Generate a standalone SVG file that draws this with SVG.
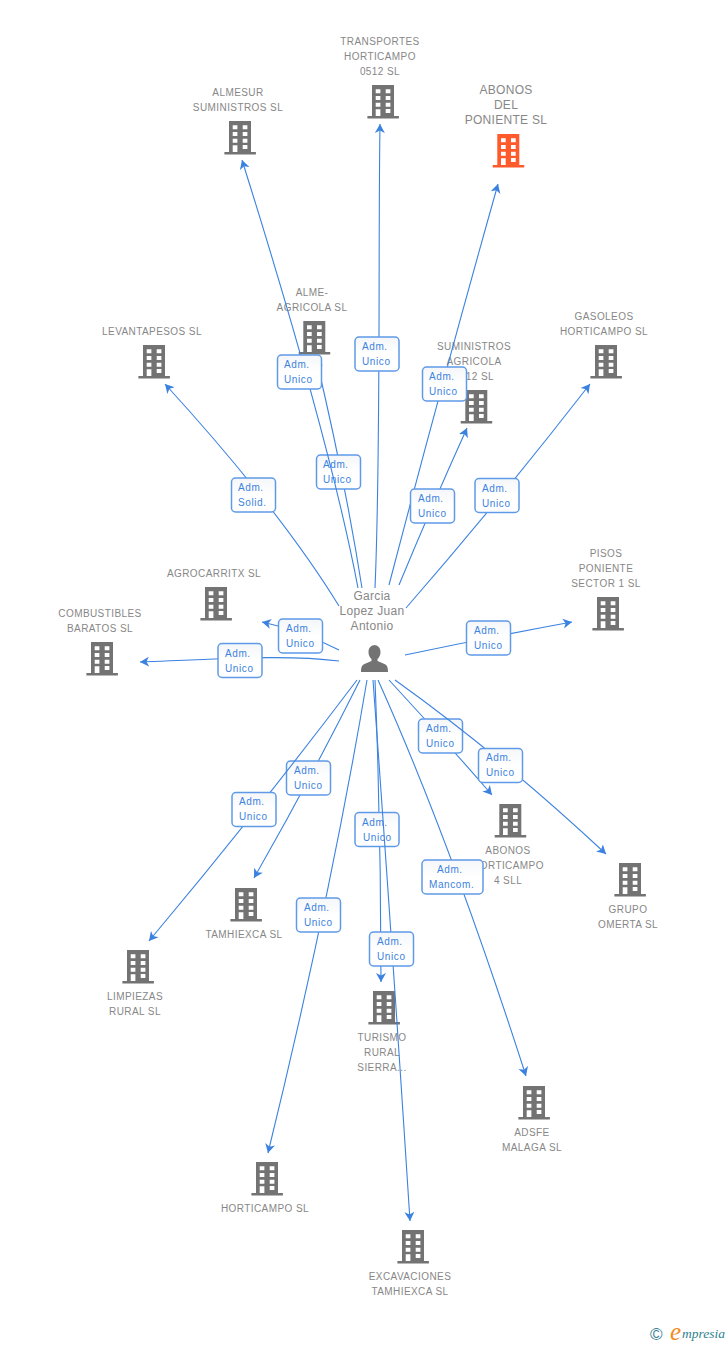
<svg xmlns="http://www.w3.org/2000/svg" width="728" height="1345" viewBox="0 0 728 1345">
<style>
text{font-family:"Liberation Sans",Arial,sans-serif}
.n{font-size:10px;fill:#878787;text-anchor:middle;letter-spacing:.42px}
.big{font-size:12px;letter-spacing:.3px}
.c path{fill:none;stroke:#3b82e0;stroke-width:1.1}
.a{marker-end:url(#ah)}
.b{fill:url(#bg);stroke:#5f9ae8;stroke-width:1.5}
.l{font-size:10px;fill:#3b82e0;letter-spacing:.6px}
</style>
<defs>
<marker id="ah" markerUnits="userSpaceOnUse" markerWidth="12" markerHeight="12" refX="9" refY="5.500" orient="auto"><path d="M0,0.5 L9,5.500 L0,10.500 L2.500,5.500 Z" fill="#3b82e0"/></marker>
<linearGradient id="bg" x1="0" y1="0" x2="0" y2="1"><stop offset="0" stop-color="#f4f6f9"/><stop offset=".5" stop-color="#fff"/><stop offset="1" stop-color="#fff"/></linearGradient>
<g id="bd"><path fill-rule="evenodd" d="M0,0H22V31H26.900V33.500H-4.600V31H0Z M3.700,4.300V8.300H8.400V4.300Z M13.700,4.300V8.300H18.400V4.300Z M3.700,11V15H8.400V11Z M13.700,11V15H18.400V11Z M3.700,17.700V21.700H8.400V17.700Z M13.700,17.700V21.700H18.400V17.700Z M3.700,24.300V31H8.400V24.300Z M13.700,24V28H18.400V24Z"/></g>
</defs>
<g id="n-transportes"><use href="#bd" x="372" y="85" fill="#737373"/><text class="n"><tspan x="380" y="45">TRANSPORTES</tspan><tspan x="380" y="60">HORTICAMPO</tspan><tspan x="380" y="75">0512 SL</tspan></text></g>
<g id="n-almesur"><use href="#bd" x="229" y="121" fill="#737373"/><text class="n"><tspan x="238" y="96">ALMESUR</tspan><tspan x="238" y="111">SUMINISTROS SL</tspan></text></g>
<g id="n-abonos-poniente"><use href="#bd" x="497.300" y="134" fill="#ff5a2b"/><text class="n big"><tspan x="506" y="94">ABONOS</tspan><tspan x="506" y="109">DEL</tspan><tspan x="506" y="124">PONIENTE SL</tspan></text></g>
<g id="n-alme-agricola"><use href="#bd" x="303.300" y="321" fill="#737373"/><text class="n"><tspan x="312" y="296">ALME-</tspan><tspan x="312" y="311">AGRICOLA SL</tspan></text></g>
<g id="n-levantapesos"><use href="#bd" x="143" y="345" fill="#737373"/><text class="n"><tspan x="152" y="335">LEVANTAPESOS SL</tspan></text></g>
<g id="n-suministros"><use href="#bd" x="465.300" y="390" fill="#737373"/><text class="n"><tspan x="474" y="350">SUMINISTROS</tspan><tspan x="474" y="365">AGRICOLA</tspan><tspan x="474" y="380">0512 SL</tspan></text></g>
<g id="n-gasoleos"><use href="#bd" x="595" y="345" fill="#737373"/><text class="n"><tspan x="604" y="320">GASOLEOS</tspan><tspan x="604" y="335">HORTICAMPO SL</tspan></text></g>
<g id="n-agrocarritx"><use href="#bd" x="205" y="587" fill="#737373"/><text class="n"><tspan x="214" y="577">AGROCARRITX SL</tspan></text></g>
<g id="n-combustibles"><use href="#bd" x="91" y="642" fill="#737373"/><text class="n"><tspan x="100" y="617">COMBUSTIBLES</tspan><tspan x="100" y="632">BARATOS SL</tspan></text></g>
<g id="n-pisos"><use href="#bd" x="597" y="597" fill="#737373"/><text class="n"><tspan x="606" y="557">PISOS</tspan><tspan x="606" y="572">PONIENTE</tspan><tspan x="606" y="587">SECTOR 1 SL</tspan></text></g>
<g id="n-abonos-horticampo"><use href="#bd" x="499.300" y="804" fill="#737373"/><text class="n"><tspan x="508" y="854">ABONOS</tspan><tspan x="508" y="869">HORTICAMPO</tspan><tspan x="508" y="884">4 SLL</tspan></text></g>
<g id="n-grupo"><use href="#bd" x="619" y="863" fill="#737373"/><text class="n"><tspan x="628" y="913">GRUPO</tspan><tspan x="628" y="928">OMERTA SL</tspan></text></g>
<g id="n-tamhiexca"><use href="#bd" x="235" y="888" fill="#737373"/><text class="n"><tspan x="244" y="938">TAMHIEXCA SL</tspan></text></g>
<g id="n-limpiezas"><use href="#bd" x="127" y="950" fill="#737373"/><text class="n"><tspan x="135" y="1000">LIMPIEZAS</tspan><tspan x="135" y="1015">RURAL SL</tspan></text></g>
<g id="n-turismo"><use href="#bd" x="373" y="991" fill="#737373"/><text class="n"><tspan x="382" y="1041">TURISMO</tspan><tspan x="382" y="1056">RURAL</tspan><tspan x="382" y="1071">SIERRA...</tspan></text></g>
<g id="n-adsfe"><use href="#bd" x="523" y="1086" fill="#737373"/><text class="n"><tspan x="532" y="1136">ADSFE</tspan><tspan x="532" y="1151">MALAGA SL</tspan></text></g>
<g id="n-horticampo"><use href="#bd" x="256" y="1162" fill="#737373"/><text class="n"><tspan x="265" y="1212">HORTICAMPO SL</tspan></text></g>
<g id="n-excavaciones"><use href="#bd" x="402" y="1230" fill="#737373"/><text class="n"><tspan x="410" y="1280">EXCAVACIONES</tspan><tspan x="410" y="1295">TAMHIEXCA SL</tspan></text></g>
<g id="n-garcia"><path d="M374,645c4,0 6.500,3 6.500,7c0,3-1.200,5.500-3,7v2l7,3c2.500,1 3.500,3 3.500,8h-27c0-5 1-7 3.500-8l7-3v-2c-1.800-1.500-3-4-3-7c0-4 2.500-7 6.500-7Z" fill="#737373"/><text class="n big"><tspan x="372" y="600">Garcia</tspan><tspan x="372" y="615">Lopez Juan</tspan><tspan x="372" y="630">Antonio</tspan></text></g>
<g id="connectors" class="c">
<g><path class="a" d="M362,588Q345,480 316,358"/><rect class="b" x="316.500" y="455" width="44" height="34" rx="4"/><text class="l"><tspan x="323" y="468">Adm.</tspan><tspan x="323" y="483">Unico</tspan></text></g>
<g><path class="a" d="M358,588Q330,440 242,160"/><rect class="b" x="277.500" y="355" width="44" height="34" rx="4"/><text class="l"><tspan x="284" y="368">Adm.</tspan><tspan x="284" y="383">Unico</tspan></text></g>
<g><path class="a" d="M375,588C381,450 378,250 380,124"/><rect class="b" x="355" y="337" width="44" height="34" rx="4"/><text class="l"><tspan x="362" y="350">Adm.</tspan><tspan x="362" y="365">Unico</tspan></text></g>
<g><path class="a" d="M389,585Q440,390 498,184"/><rect class="b" x="422.500" y="367" width="44" height="34" rx="4"/><text class="l"><tspan x="429" y="380">Adm.</tspan><tspan x="429" y="395">Unico</tspan></text></g>
<g><path class="a" d="M399,585Q430,510 467,428"/><rect class="b" x="410.500" y="489" width="44" height="34" rx="4"/><text class="l"><tspan x="418" y="502">Adm.</tspan><tspan x="418" y="517">Unico</tspan></text></g>
<g><path class="a" d="M406,608Q500,500 590,384"/><rect class="b" x="475" y="478.500" width="44" height="34" rx="4"/><text class="l"><tspan x="482" y="492">Adm.</tspan><tspan x="482" y="507">Unico</tspan></text></g>
<g><path class="a" d="M339,606Q280,510 165,384"/><rect class="b" x="231.500" y="478" width="44" height="34" rx="4"/><text class="l"><tspan x="238" y="491">Adm.</tspan><tspan x="238" y="506">Solid.</tspan></text></g>
<g><path class="a" d="M339,650Q300,630 262,622"/><rect class="b" x="278.500" y="619" width="44" height="34" rx="4"/><text class="l"><tspan x="286" y="632">Adm.</tspan><tspan x="286" y="647">Unico</tspan></text></g>
<g><path class="a" d="M339,661C290,655 240,658 140,662"/><rect class="b" x="218" y="643.500" width="44" height="34" rx="4"/><text class="l"><tspan x="225" y="657">Adm.</tspan><tspan x="225" y="672">Unico</tspan></text></g>
<g><path class="a" d="M405,655Q490,637 572,622"/><rect class="b" x="466.500" y="621" width="44" height="34" rx="4"/><text class="l"><tspan x="474" y="634">Adm.</tspan><tspan x="474" y="649">Unico</tspan></text></g>
<g><path class="a" d="M389,680Q440,735 492,795"/><rect class="b" x="418.500" y="719" width="44" height="34" rx="4"/><text class="l"><tspan x="426" y="732">Adm.</tspan><tspan x="426" y="747">Unico</tspan></text></g>
<g><path class="a" d="M395,680Q500,755 606,854"/><rect class="b" x="478.500" y="748.500" width="44" height="34" rx="4"/><text class="l"><tspan x="486" y="761">Adm.</tspan><tspan x="486" y="776">Unico</tspan></text></g>
<g><path class="a" d="M378,680Q450,840 526,1076"/><rect class="b" x="422" y="860" width="61" height="34" rx="4"/><text class="l"><tspan x="437" y="873">Adm.</tspan><tspan x="429" y="888">Mancom.</tspan></text></g>
<g><path class="a" d="M375,680Q381,830 381,982"/><rect class="b" x="355" y="812.500" width="44" height="34" rx="4"/><text class="l"><tspan x="362" y="826">Adm.</tspan><tspan x="363" y="841">Unico</tspan></text></g>
<g><path class="a" d="M373,680Q392,940 410,1221"/><rect class="b" x="369.500" y="932" width="44" height="34" rx="4"/><text class="l"><tspan x="377" y="945">Adm.</tspan><tspan x="377" y="960">Unico</tspan></text></g>
<g><path class="a" d="M367,680Q330,900 268,1153"/><rect class="b" x="296.500" y="898" width="44" height="34" rx="4"/><text class="l"><tspan x="304" y="911">Adm.</tspan><tspan x="304" y="926">Unico</tspan></text></g>
<g><path class="a" d="M360,680Q310,780 254,878"/><rect class="b" x="286.500" y="761" width="44" height="34" rx="4"/><text class="l"><tspan x="294" y="774">Adm.</tspan><tspan x="294" y="789">Unico</tspan></text></g>
<g><path class="a" d="M357,680Q255,815 149,941"/><rect class="b" x="232" y="792.500" width="44" height="34" rx="4"/><text class="l"><tspan x="239" y="805">Adm.</tspan><tspan x="239" y="820">Unico</tspan></text></g>
</g>
<g id="logo"><text x="650" y="1340" font-size="17" fill="#3e7f94">©</text><text x="670" y="1340" font-size="25" font-style="italic" fill="#f28c1e" style="font-family:'Liberation Serif',serif">e</text><text x="682" y="1338" font-size="13.500" font-style="italic" fill="#2f7f90" style="font-family:'Liberation Serif',serif">mpresia</text></g>
</svg>
